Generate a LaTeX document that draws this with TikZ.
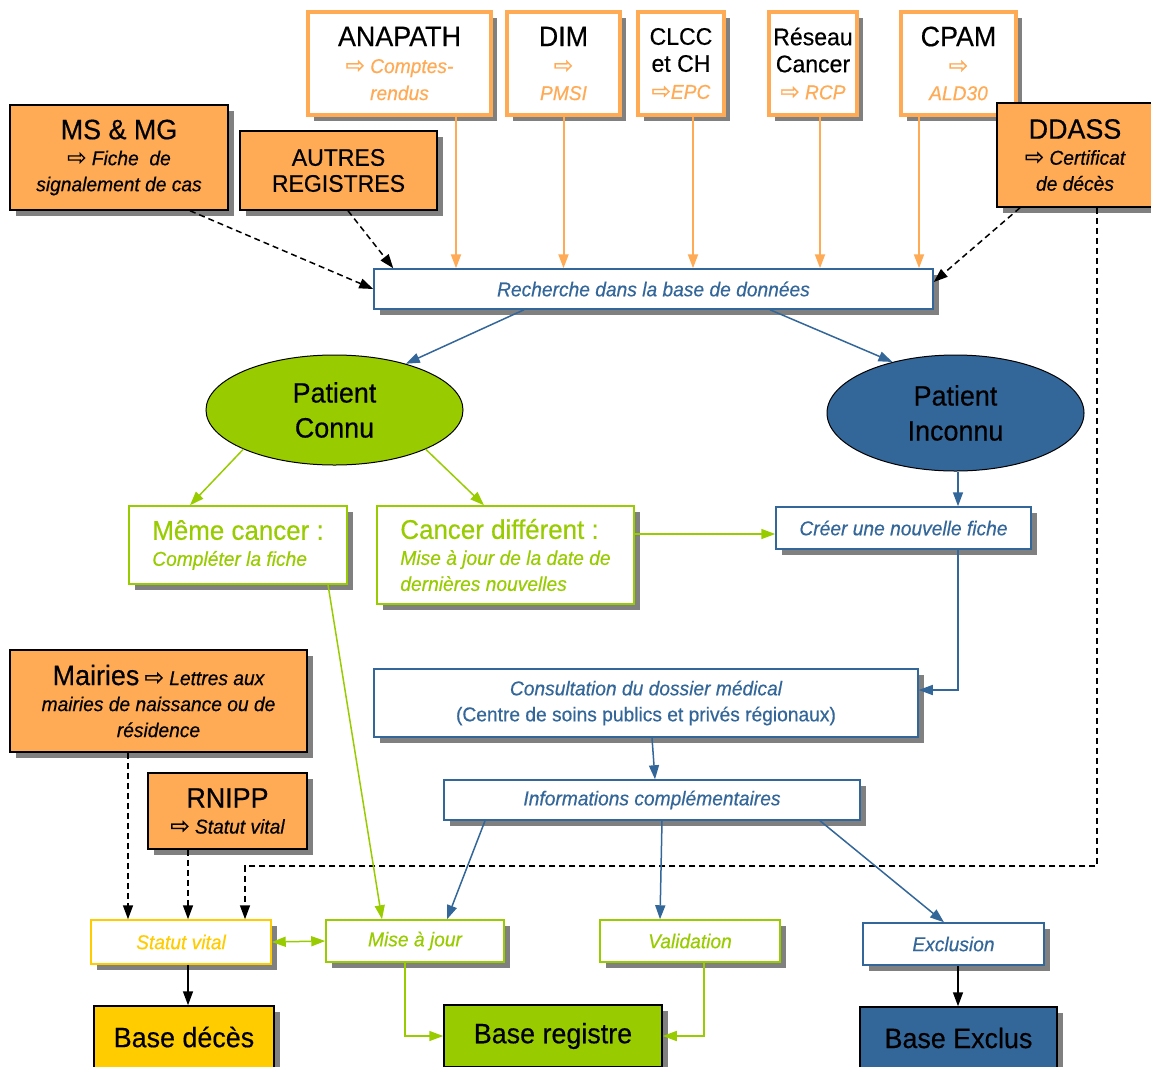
\documentclass[tikz,border=0pt]{standalone}
\usepackage{fontspec}
\setmainfont{Liberation Sans}[FakeStretch=0.96, FakeBold=0.4]
\newfontfamily\symfont{DejaVu Sans}[FakeBold=0.8]
\usetikzlibrary{arrows.meta, shapes.geometric, shadows}
\definecolor{orng}{HTML}{FFAA55}
\definecolor{grn}{HTML}{99CC00}
\definecolor{blu}{HTML}{336699}
\definecolor{ylw}{HTML}{FFCC00}
\newcommand{\arr}{{\symfont\upshape\fontsize{23}{26}\selectfont\char"21E8}}
\newcommand{\hd}[1]{{\fontsize{28}{30}\selectfont #1}}
\newcommand{\md}[1]{{\fontsize{24}{28}\selectfont #1}}
\newcommand{\osub}[1]{{\color{orng}\itshape #1}}

\begin{document}
\begin{tikzpicture}[x=1pt, y=-1pt,
    shd/.style={drop shadow={shadow xshift=6pt, shadow yshift=-6pt, fill=black!50, opacity=1}},
    src/.style={draw=orng, line width=4pt, fill=white, shd, align=center, inner sep=1pt,
        minimum height=103pt, font=\fontsize{20}{27}\selectfont},
    ext/.style={draw=black, line width=1.5pt, fill=orng, shd, align=center, inner sep=1pt,
        font=\fontsize{20}{26}\selectfont},
    bluebox/.style={draw=blu, line width=1.5pt, fill=white, shd, align=center, text=blu,
        font=\fontsize{20}{26}\selectfont\itshape},
    grnbox/.style={draw=grn, line width=1.5pt, fill=white, shd, align=center, text=grn,
        font=\fontsize{20}{26}\selectfont\itshape},
    basebox/.style={draw=black, line width=1.5pt, shd, font=\fontsize{28}{30}\selectfont},
    patient/.style={ellipse, draw=black, line width=1pt, align=center, inner sep=0pt,
        minimum width=257pt, font=\fontsize{28}{35}\selectfont},
    oarr/.style={draw=orng, line width=2pt, -{Triangle[length=14pt,width=10pt]}},
    barr/.style={draw=blu, line width=1.5pt, -{Triangle[length=14pt,width=10pt]}},
    garr/.style={draw=grn, line width=1.5pt, -{Triangle[length=14pt,width=10pt]}},
    karr/.style={draw=black, line width=1.5pt, -{Triangle[length=14pt,width=10pt]}},
    darr/.style={draw=black, line width=1.5pt, dash pattern=on 6pt off 4pt,
        -{Triangle[length=14pt,width=10pt]}}]
    \useasboundingbox (0,0) rectangle (1151,1066);

    % Define the sources
    \node[src, minimum width=183pt] (anapath) at (399.5,63.5)
        {\hd{ANAPATH}\\\osub{\arr{} Comptes-}\\\osub{rendus}};
    \node[src, minimum width=113pt] (dim) at (563.5,63.5)
        {\hd{DIM}\\\osub{\arr}\\\osub{PMSI}};
    \node[src, minimum width=86pt] (clcc) at (681,63.5)
        {\md{CLCC}\\\md{et CH}\\\osub{\arr EPC}};
    \node[src, minimum width=88pt] (reseau) at (813,63.5)
        {\md{Réseau}\\\md{Cancer}\\\osub{\arr{} RCP}};
    \node[src, minimum width=115pt] (cpam) at (958.5,63.5)
        {\hd{CPAM}\\\osub{\arr}\\\osub{ALD30}};

    \node[ext, minimum width=218pt, minimum height=105pt] (msmg) at (119,157.5)
        {\hd{MS \& MG}\\\itshape\arr{} Fiche~ de\\\itshape signalement de cas};
    \node[ext, minimum width=197pt, minimum height=79pt] (autres) at (338.5,170.5)
        {\md{AUTRES}\\\md{REGISTRES}};
    \node[ext, minimum width=156pt, minimum height=104pt] (ddass) at (1075,155)
        {\hd{DDASS}\\\itshape\arr{} Certificat\\\itshape de décès};

    % Define the steps
    \node[bluebox, minimum width=559pt, minimum height=40pt] (rech) at (653.5,289)
        {Recherche dans la base de données};
    \node[patient, fill=grn, minimum height=110pt] (connu) at (334.5,410) {Patient\\Connu};
    \node[patient, fill=blu, minimum height=116pt] (inconnu) at (955.5,413) {Patient\\Inconnu};

    \node[grnbox, align=left, minimum width=218pt, minimum height=78pt] (meme) at (238,545)
        {\upshape\fontsize{27}{30}\selectfont Même cancer :\\\itshape\fontsize{20}{26}\selectfont Compléter la fiche};
    \node[grnbox, align=left, minimum width=257pt, minimum height=98pt] (diff) at (505.5,555)
        {\upshape\fontsize{27}{30}\selectfont Cancer différent :\\\itshape\fontsize{20}{25}\selectfont Mise à jour de la date de\\dernières nouvelles};
    \node[bluebox, minimum width=255pt, minimum height=42pt] (creer) at (903.5,528)
        {Créer une nouvelle fiche};
    \node[bluebox, minimum width=544pt, minimum height=68pt] (consult) at (646,703)
        {Consultation du dossier médical\\\upshape (Centre de soins publics et privés régionaux)};
    \node[bluebox, minimum width=416pt, minimum height=40pt] (infos) at (652,800)
        {Informations complémentaires};

    \node[ext, minimum width=297pt, minimum height=102pt] (mairies) at (158.5,701)
        {\hd{Mairies} \itshape\arr{} Lettres aux\\\itshape mairies de naissance ou de\\\itshape résidence};
    \node[ext, minimum width=159pt, minimum height=76pt] (rnipp) at (227.5,811)
        {\hd{RNIPP}\\\itshape\arr{} Statut vital};

    \node[grnbox, draw=ylw, text=ylw, minimum width=180pt, minimum height=44pt] (statut) at (181,942)
        {Statut vital};
    \node[grnbox, minimum width=178pt, minimum height=42pt] (maj) at (415,941) {Mise à jour};
    \node[grnbox, minimum width=180pt, minimum height=42pt] (valid) at (690,941) {Validation};
    \node[bluebox, minimum width=181pt, minimum height=42pt] (exclu) at (953.5,944) {Exclusion};

    \node[basebox, fill=ylw, minimum width=180pt, minimum height=62pt] (bdeces) at (184,1037) {Base décès};
    \node[basebox, fill=grn, minimum width=218pt, minimum height=62pt] (bregistre) at (553,1036) {Base registre};
    \node[basebox, fill=blu, minimum width=197pt, minimum height=62pt] (bexclus) at (958.5,1038) {Base Exclus};

    \coordinate (corner) at (245,866);

    % Define the transitions
    \draw[oarr] ([xshift=56.5pt]anapath.south) -- ([xshift=56.5pt]anapath.south |- rech.north);
    \draw[oarr] (dim.south) -- (dim.south |- rech.north);
    \draw[oarr] ([xshift=12pt]clcc.south) -- ([xshift=12pt]clcc.south |- rech.north);
    \draw[oarr] ([xshift=7pt]reseau.south) -- ([xshift=7pt]reseau.south |- rech.north);
    \draw[oarr] ([xshift=-39.5pt]cpam.south) -- ([xshift=-39.5pt]cpam.south |- rech.north);

    \draw[darr] ([xshift=71pt]msmg.south) -- (rech.west);
    \draw[darr] ([xshift=9.5pt]autres.south) -- ([xshift=20pt]rech.north west);
    \draw[darr] ([xshift=-55pt]ddass.south) -- ([yshift=7pt]rech.east);
    \draw[darr] ([xshift=22pt]ddass.south) |- (corner) -- ([xshift=64pt]statut.north);
    \draw[darr] ([xshift=-30.5pt]mairies.south) -- ([xshift=-30.5pt]mairies.south |- statut.north);
    \draw[darr] ([xshift=-39.5pt]rnipp.south) -- ([xshift=-39.5pt]rnipp.south |- statut.north);

    \draw[barr] ([xshift=-129.5pt]rech.south) -- (connu.33);
    \draw[barr] ([xshift=116.5pt]rech.south) -- (inconnu.141);
    \draw[garr] (connu.south west) -- ([xshift=-48pt]meme.north);
    \draw[garr] (connu.south east) -- ([xshift=-21.5pt]diff.north);
    \draw[barr] ([xshift=2.5pt]inconnu.south) -- ([xshift=2.5pt]inconnu.south |- creer.north);
    \draw[garr] ([yshift=21pt]diff.east) -- ([yshift=21pt]diff.east -| creer.west);
    \draw[barr] ([xshift=54.5pt]creer.south) |- ([yshift=13pt]consult.east);
    \draw[barr] ([xshift=6pt]consult.south) -- ([xshift=3pt]infos.north);
    \draw[barr] ([xshift=-167pt]infos.south) -- ([xshift=32pt]maj.north);
    \draw[barr] ([xshift=10pt]infos.south) -- ([xshift=-30pt]valid.north);
    \draw[barr] ([xshift=168pt]infos.south) -- ([xshift=-9.5pt]exclu.north);
    \draw[garr] ([xshift=90pt]meme.south) -- ([xshift=-33pt]maj.north);
    \draw[garr, {Triangle[length=14pt,width=10pt]}-{Triangle[length=14pt,width=10pt]}] (statut.east) -- (maj.west);
    \draw[garr] ([xshift=-10pt]maj.south) |- (bregistre.west);
    \draw[garr] ([xshift=14pt]valid.south) |- (bregistre.east);
    \draw[karr] ([xshift=7pt]statut.south) -- ([xshift=7pt]statut.south |- bdeces.north);
    \draw[karr] ([xshift=4.5pt]exclu.south) -- ([xshift=4.5pt]exclu.south |- bexclus.north);
\end{tikzpicture}
\end{document}
